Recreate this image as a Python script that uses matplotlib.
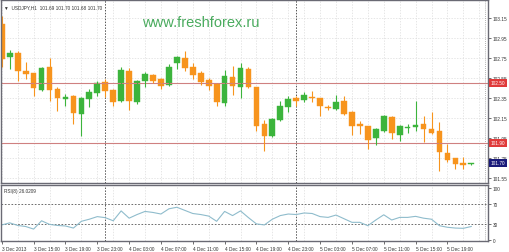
import matplotlib
matplotlib.use("Agg")
import matplotlib.pyplot as plt
import matplotlib.transforms as mtransforms

# USDJPY H1, 3 Dec 11:00 .. 5 Dec 22:00
opens = [103.09, 102.76, 102.80, 102.62, 102.60, 102.43, 102.66, 102.44, 102.34, 102.37,
         102.19, 102.34, 102.40, 102.51, 102.43, 102.32, 102.62, 102.31, 102.52, 102.58,
         102.54, 102.48, 102.70, 102.75, 102.66, 102.60, 102.53, 102.49, 102.30, 102.56,
         102.46, 102.64, 102.46, 102.09, 101.97, 102.13, 102.26, 102.35, 102.33, 102.36,
         102.35, 102.26, 102.24, 102.32, 102.21, 102.09, 102.07, 101.95, 102.02, 102.16,
         101.98, 102.05, 102.06, 102.09, 102.04, 102.02, 101.80, 101.75, 101.70, 101.69]
highs = [103.17, 102.83, 102.82, 102.71, 102.60, 102.66, 102.75, 102.46, 102.39, 102.38,
         102.36, 102.44, 102.52, 102.54, 102.44, 102.66, 102.65, 102.53, 102.61, 102.59,
         102.55, 102.69, 102.77, 102.82, 102.70, 102.62, 102.55, 102.50, 102.63, 102.67,
         102.70, 102.66, 102.46, 102.13, 102.15, 102.32, 102.37, 102.37, 102.41, 102.42,
         102.35, 102.28, 102.38, 102.37, 102.22, 102.12, 102.07, 102.05, 102.18, 102.17,
         102.08, 102.09, 102.32, 102.17, 102.21, 102.11, 101.89, 101.75, 101.76, 101.70]
lows = [102.66, 102.64, 102.52, 102.54, 102.37, 102.42, 102.32, 102.22, 102.27, 102.09,
        101.97, 102.26, 102.37, 102.36, 102.27, 102.31, 102.23, 102.29, 102.46, 102.50,
        102.44, 102.47, 102.64, 102.62, 102.54, 102.48, 102.43, 102.27, 102.27, 102.38,
        102.35, 102.45, 102.02, 101.82, 101.96, 102.12, 102.21, 102.27, 102.31, 102.31,
        102.17, 102.23, 102.23, 102.18, 101.98, 101.99, 101.84, 101.88, 102.01, 101.94,
        101.92, 102.00, 102.02, 101.91, 101.99, 101.62, 101.71, 101.64, 101.64, 101.68]
closes = [102.74, 102.80, 102.62, 102.59, 102.45, 102.65, 102.43, 102.35, 102.36, 102.20,
          102.35, 102.41, 102.50, 102.42, 102.31, 102.63, 102.32, 102.52, 102.59, 102.52,
          102.47, 102.66, 102.76, 102.65, 102.58, 102.51, 102.47, 102.31, 102.57, 102.47,
          102.65, 102.46, 102.07, 101.97, 102.14, 102.27, 102.34, 102.32, 102.38, 102.35,
          102.27, 102.25, 102.31, 102.19, 102.07, 102.07, 101.93, 102.04, 102.17, 102.00,
          102.07, 102.05, 102.08, 102.04, 102.00, 101.81, 101.73, 101.69, 101.68, 101.70]
rsi = [29, 33, 28, 26, 21, 37, 30, 28, 27, 23,
       36, 40, 45, 43, 37, 56, 42, 49, 55, 53,
       50, 60, 63, 57, 51, 49, 46, 36, 55, 47,
       56, 43, 31, 29, 40, 47, 50, 49, 52, 51,
       45, 43.5, 48, 41, 34, 34, 27.5, 38.5, 48.5, 38.5,
       43.5, 43.5, 45.5, 42, 40, 27.5, 24.5, 23, 22.5, 26]
rsi_last = 26.0209

time_labels = ["3 Dec 2013", "3 Dec 15:00", "3 Dec 19:00", "3 Dec 23:00", "4 Dec 03:00",
               "4 Dec 07:00", "4 Dec 11:00", "4 Dec 15:00", "4 Dec 19:00", "4 Dec 23:00",
               "5 Dec 03:00", "5 Dec 07:00", "5 Dec 11:00", "5 Dec 15:00", "5 Dec 19:00"]
label_bars = list(range(0, 60, 4))
day_starts = [13, 37]
price_ticks = [103.15, 102.95, 102.75, 102.55, 102.35, 102.15, 101.95, 101.75, 101.55]
hlines = [102.50, 101.90]
rsi_levels = [70, 30]

plt.rcParams["font.family"] = ["Liberation Sans", "DejaVu Sans"]

W, H = 510, 253
fig = plt.figure(figsize=(W / 100, H / 100), dpi=100)
fig.patch.set_facecolor("white")

ax = fig.add_axes([1 / W, (H - 184) / H, 487 / W, 183 / H])
ax2 = fig.add_axes([1 / W, (H - 242) / H, 487 / W, 56 / H])

green = "#3cb43c"
orange = "#f7941d"
frame = "#6a6a74"
txt = "#333333"
fs = 3.4

xmin, xmax = -0.1, 61.1
for a in (ax, ax2):
    a.set_xlim(xmin, xmax)
    for s in a.spines.values():
        s.set_color(frame)
        s.set_linewidth(1.0)
    a.yaxis.tick_right()
    a.tick_params(axis="y", length=2, width=0.5, color=txt, labelsize=fs,
                  labelcolor=txt, pad=1.5)
    a.set_xticks([x for x in range(0, 61, 2)], minor=True)
    a.grid(which="minor", axis="x", color="#dcdcdc", linestyle=(0, (2, 2)), linewidth=0.5)
    for d in day_starts:
        a.axvline(d, color="#555555", linestyle=(0, (1.5, 1.5)), linewidth=0.7)
    a.axvline(60.7, color="#999999", linestyle=(0, (1, 1.5)), linewidth=0.6)
    a.set_axisbelow(True)

# main panel
ax.set_ylim(101.50, 103.33)
ax.set_yticks(price_ticks)
ax.set_yticklabels([f"{p:.2f}" for p in price_ticks])
ax.set_xticks([])
ax.tick_params(axis="x", which="minor", length=0)
ax.grid(which="major", axis="y", color="#dcdcdc", linestyle=(0, (2, 2)), linewidth=0.5)
for lvl in hlines:
    ax.axhline(lvl, color="#cf8080", linewidth=0.8)

for i in range(len(opens)):
    o, h, l, c = opens[i], highs[i], lows[i], closes[i]
    col = green if c >= o else orange
    ax.vlines(i, l, h, color=col, linewidth=0.8)
    body = max(abs(c - o), 0.008)
    ax.bar(i, body, bottom=min(o, c), width=0.72, color=col, edgecolor=col, linewidth=0.3)

tr = mtransforms.blended_transform_factory(ax.transAxes, ax.transData)
for lvl in hlines:
    ax.text(1.006, lvl, f"{lvl:.2f}", transform=tr, fontsize=fs, color="white",
            va="center", ha="left", clip_on=False,
            bbox=dict(boxstyle="square,pad=0.35", facecolor="#e03a3a", edgecolor="none"))
ax.text(1.006, closes[-1], f"{closes[-1]:.2f}", transform=tr, fontsize=fs, color="white",
        va="center", ha="left", clip_on=False,
        bbox=dict(boxstyle="square,pad=0.35", facecolor="#1a1a7a", edgecolor="none"))

ax.text(0.006, 0.965, "\u25bc  USDJPY,H1  101.69 101.70 101.68 101.70", transform=ax.transAxes,
        fontsize=fs, color=txt, va="center", ha="left")
fig.text(201 / W, 1 - 23 / H, "www.freshforex.ru", fontsize=10.5, color="#4aab5e",
         ha="center", va="center")

# RSI panel
ax2.set_ylim(-1.9, 105.8)
ax2.set_yticks([100, 70, 30, 0])
ax2.set_yticklabels(["100", "70", "30", "0"])
for lvl in rsi_levels:
    ax2.axhline(lvl, color="#555555", linestyle=(0, (2, 2)), linewidth=0.6)
ax2.plot(range(len(rsi)), rsi, color="#8fbccc", linewidth=0.8)
ax2.set_xticks(label_bars)
ax2.set_xticklabels(time_labels, ha="left")
ax2.tick_params(axis="x", which="major", length=2, width=0.5, color=txt,
                labelsize=fs, labelcolor=txt, pad=1.5)
ax2.tick_params(axis="x", which="minor", length=0)
ax2.text(0.006, 0.9, f"RSI(8) {rsi_last:.4f}",
         transform=ax2.transAxes, fontsize=fs, color=txt, va="center", ha="left")

fig.savefig("out.png", dpi=100, facecolor="white")
